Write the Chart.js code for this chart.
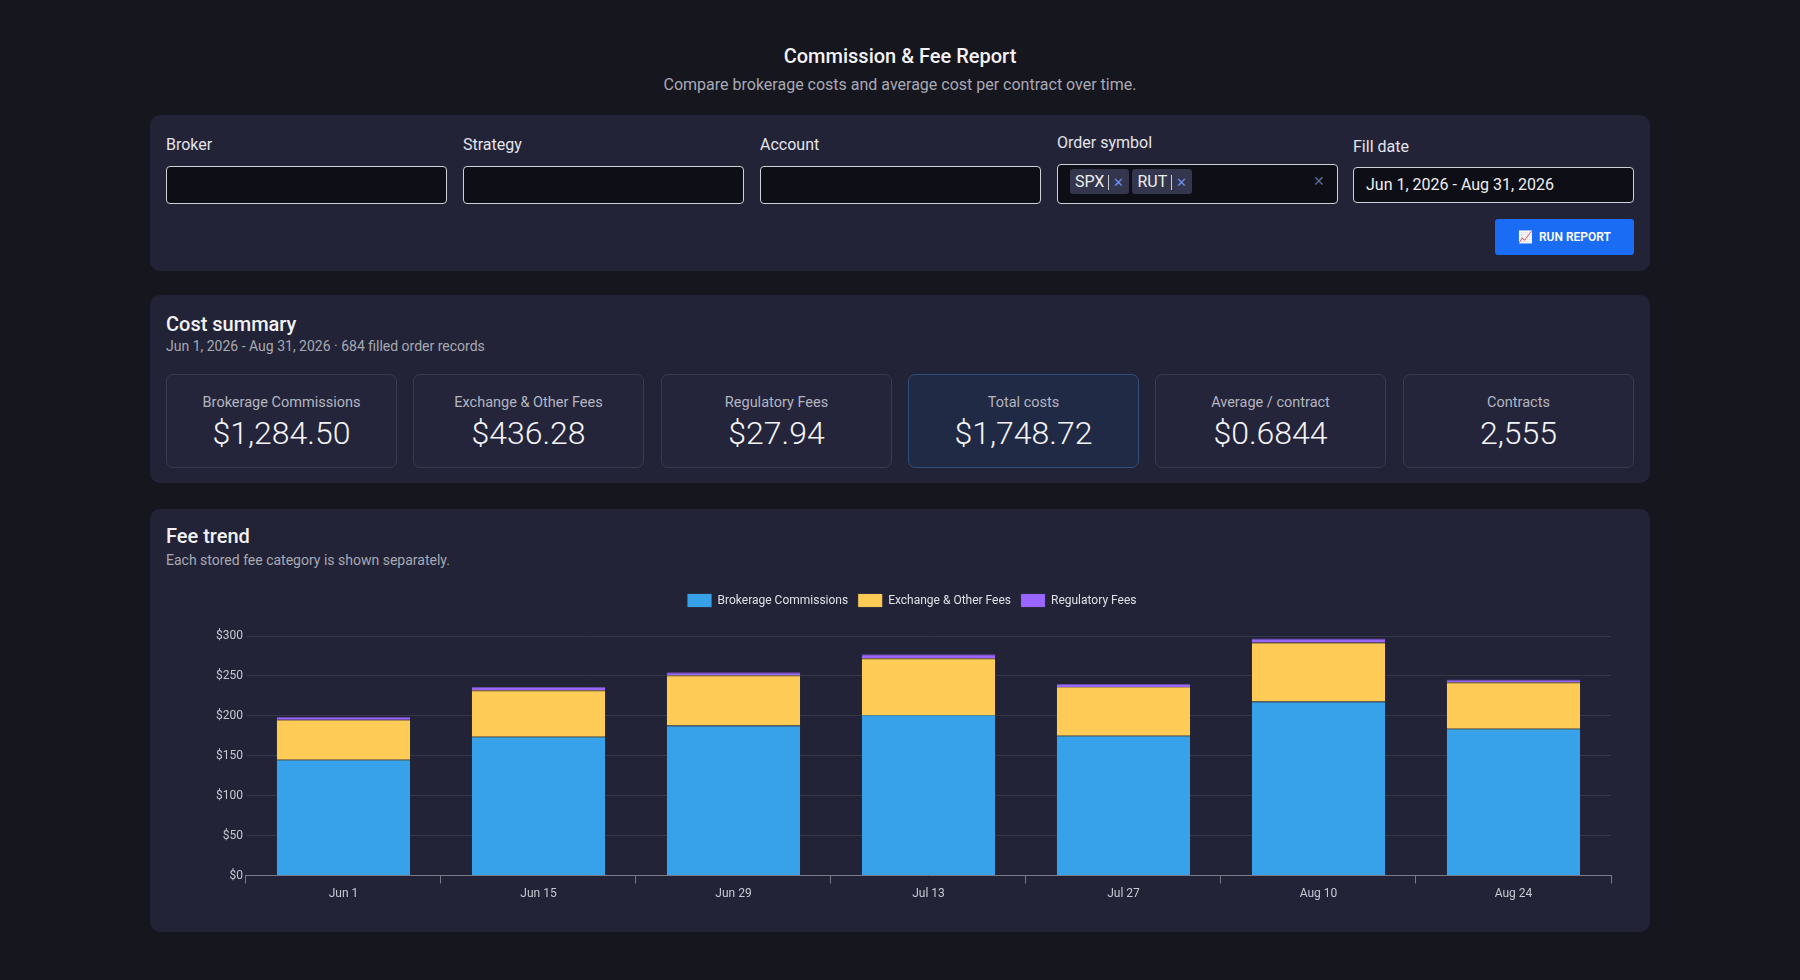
<!DOCTYPE html>
<html><head><meta charset="utf-8">
<script src="https://cdn.jsdelivr.net/npm/chart.js@4.4.0/dist/chart.umd.min.js"></script>
<style>
*{box-sizing:border-box}
body{margin:0;background:#16161f;font-family:Roboto,"Noto Sans",sans-serif;color:#e8e8ee;width:1800px;height:980px;overflow:hidden}
h1{position:absolute;top:44px;left:0;width:1800px;text-align:center;font-size:20px;font-weight:500;margin:0;color:#f2f2f5}
.sub{position:absolute;top:75px;left:0;width:1800px;text-align:center;font-size:16px;color:#a8a9b4}
.panel{position:absolute;left:150px;width:1500px;background:#222336;border-radius:10px}
.f{position:absolute;width:281px}
.f label{display:block;font-size:16px;color:#e4e4ea}
.f .in{margin-top:12px;height:38px;background:#0e0e16;border:1px solid #cfd0d8;border-radius:4px;position:relative;font-size:16px;color:#eee;padding:9px 12px}
.chip{display:inline-block;background:#34364d;border-radius:3px;padding:3px 5px;margin-right:3px;font-size:16px}
.chip b{color:#6f8ff0;font-weight:400;font-size:13px;border-left:1px solid #ccc;padding-left:4px;margin-left:4px}
.btn{position:absolute;right:16px;top:104px;width:139px;height:36px;background:#1a6cf5;border-radius:3px;color:#fff;font-size:12px;font-weight:600;text-align:center;line-height:36px}
h2{position:absolute;left:16px;margin:0;font-size:20px;font-weight:500;color:#f2f2f5}
.ps{position:absolute;left:16px;font-size:14px;color:#a8a9b4}
.card{position:absolute;top:79px;width:231px;height:94px;border:1px solid #3a3b50;border-radius:7px;background:#24253a;text-align:center}
.card .l{margin-top:19px;font-size:14.5px;color:#b4b5c0}
.card .v{margin-top:3px;font-size:32px;font-weight:300;color:#f4f4f8}
.card.hl{background:#202a45;border-color:#2f4f78}
#cw{position:absolute;left:16px;top:75px;width:1468px;height:320px}
</style></head><body>
<h1>Commission &amp; Fee Report</h1>
<div class="sub">Compare brokerage costs and average cost per contract over time.</div>
<div class="panel" style="top:115px;height:156px">
 <div class="f" style="left:16px;top:20px"><label>Broker</label><div class="in"></div></div>
 <div class="f" style="left:313px;top:20px"><label>Strategy</label><div class="in"></div></div>
 <div class="f" style="left:610px;top:20px"><label>Account</label><div class="in"></div></div>
 <div class="f" style="left:907px;top:18px"><label>Order symbol</label><div class="in" style="padding:4px 12px;height:40px"><span class="chip">SPX<b>✕</b></span><span class="chip">RUT<b>✕</b></span><span style="position:absolute;right:12px;top:8px;color:#5a6b9a;font-size:14px">✕</span></div></div>
 <div class="f" style="left:1203px;top:22px"><label>Fill date</label><div class="in" style="margin-top:11px;height:36px;padding:7px 12px">Jun 1, 2026 - Aug 31, 2026</div></div>
 <div class="btn">📈&nbsp; RUN REPORT</div>
</div>
<div class="panel" style="top:295px;height:188px">
 <h2 style="top:17px">Cost summary</h2>
 <div class="ps" style="top:43px">Jun 1, 2026 - Aug 31, 2026 · 684 filled order records</div>
 <div class="card" style="left:16px"><div class="l">Brokerage Commissions</div><div class="v">$1,284.50</div></div>
 <div class="card" style="left:263px"><div class="l">Exchange &amp; Other Fees</div><div class="v">$436.28</div></div>
 <div class="card" style="left:511px"><div class="l">Regulatory Fees</div><div class="v">$27.94</div></div>
 <div class="card hl" style="left:758px"><div class="l">Total costs</div><div class="v">$1,748.72</div></div>
 <div class="card" style="left:1005px"><div class="l">Average / contract</div><div class="v">$0.6844</div></div>
 <div class="card" style="left:1253px"><div class="l">Contracts</div><div class="v">2,555</div></div>
</div>
<div class="panel" style="top:509px;height:423px">
 <h2 style="top:15px">Fee trend</h2>
 <div class="ps" style="top:43px">Each stored fee category is shown separately.</div>
 <div id="cw"><canvas id="c"></canvas></div>
</div>
<script>
const labels=["Jun 1","Jun 15","Jun 29","Jul 13","Jul 27","Aug 10","Aug 24"];
const brokerage=[145,174,188,201,175,218,184];
const exchange=[50,58,63,71,61,74,58];
const regulatory=[4,4,3.5,5,4,5,3.5];
Chart.defaults.font.family="Roboto, sans-serif";
Chart.defaults.color="#c8c9d2";
const legendGap={id:'legendGap',beforeInit(chart){const f=chart.legend.fit;chart.legend.fit=function(){f.call(this);this.height+=19;};}};
new Chart(document.getElementById('c'),{type:'bar',
data:{labels,datasets:[
{label:'Brokerage Commissions',data:brokerage,backgroundColor:'#37a2ea',borderColor:'#4f8a9a',borderWidth:{top:1,left:0,right:0,bottom:0},borderSkipped:false},
{label:'Exchange & Other Fees',data:exchange,backgroundColor:'#ffcb57',borderColor:'#b89a5a',borderWidth:{top:1,left:0,right:0,bottom:0},borderSkipped:false},
{label:'Regulatory Fees',data:regulatory,backgroundColor:'#9b66ff',borderColor:'#6a4eaa',borderWidth:{top:1,left:0,right:0,bottom:0},borderSkipped:false}]},
options:{responsive:true,maintainAspectRatio:false,animation:false,
layout:{padding:{left:47,right:23,top:0,bottom:0}},
plugins:{legend:{labels:{boxWidth:24,boxHeight:13,font:{size:12},color:'#e0e0e8',padding:10}},tooltip:{enabled:false}},
datasets:{bar:{categoryPercentage:0.9,barPercentage:0.76}},
scales:{x:{stacked:true,grid:{display:true,drawOnChartArea:false,color:'#7a7b88',tickLength:8},border:{color:'#7a7b88'},ticks:{font:{size:12},color:'#c8c9d2'}},
y:{stacked:true,min:0,max:300,ticks:{stepSize:50,callback:v=>'$'+v,font:{size:12},color:'#c8c9d2'},grid:{color:'#353648',drawTicks:false},border:{display:false}}}},
plugins:[legendGap]});
</script>
</body></html>
